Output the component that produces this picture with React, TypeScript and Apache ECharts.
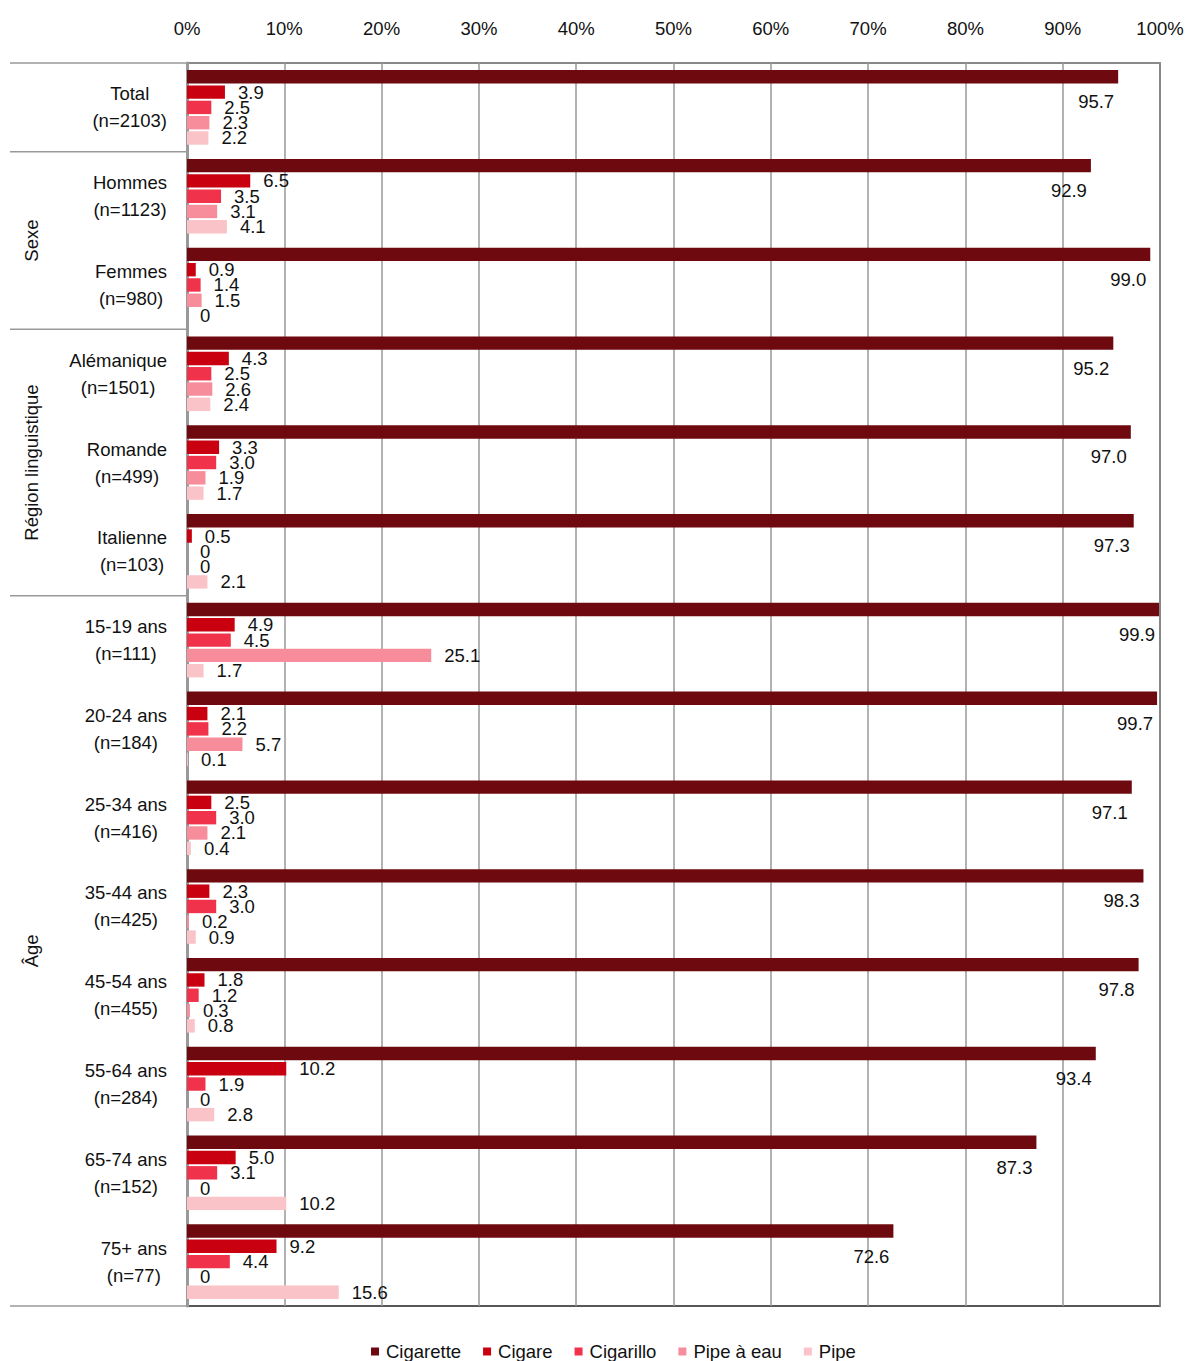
import React, { useEffect, useRef } from "react";
import * as echarts from "echarts";

const categories = [
  "Total|(n=2103)",
  "Hommes|(n=1123)",
  "Femmes|(n=980)",
  "Alémanique|(n=1501)",
  "Romande|(n=499)",
  "Italienne|(n=103)",
  "15-19 ans|(n=111)",
  "20-24 ans|(n=184)",
  "25-34 ans|(n=416)",
  "35-44 ans|(n=425)",
  "45-54 ans|(n=455)",
  "55-64 ans|(n=284)",
  "65-74 ans|(n=152)",
  "75+ ans|(n=77)",
];

const seriesNames = ["Cigarette", "Cigare", "Cigarillo", "Pipe à eau", "Pipe"];
const seriesColors = ["#6E0A0F", "#C8000F", "#F0324B", "#F78C9B", "#FAC3C8"];

const cigarette = [95.7, 92.9, 99.0, 95.2, 97.0, 97.3, 99.9, 99.7, 97.1, 98.3, 97.8, 93.4, 87.3, 72.6];
const cigare = [3.9, 6.5, 0.9, 4.3, 3.3, 0.5, 4.9, 2.1, 2.5, 2.3, 1.8, 10.2, 5.0, 9.2];
const cigarillo = [2.5, 3.5, 1.4, 2.5, 3.0, 0, 4.5, 2.2, 3.0, 3.0, 1.2, 1.9, 3.1, 4.4];
const pipeEau = [2.3, 3.1, 1.5, 2.6, 1.9, 0, 25.1, 5.7, 2.1, 0.2, 0.3, 0, 0, 0];
const pipe = [2.2, 4.1, 0, 2.4, 1.7, 2.1, 1.7, 0.1, 0.4, 0.9, 0.8, 2.8, 10.2, 15.6];

const xTicks = [0, 10, 20, 30, 40, 50, 60, 70, 80, 90, 100];

const groups = [
  { name: "Sexe", start: 1, end: 2 },
  { name: "Région linguistique", start: 3, end: 5 },
  { name: "Âge", start: 6, end: 13 },
];
const separatorIdx = [0, 1, 3, 6];

const FONT = "'Liberation Sans', Arial, sans-serif";
const FS = 18.5;
const TEXT = "#111";

export default function App() {
  const ref = useRef<HTMLDivElement>(null);
  useEffect(() => {
    if (!ref.current) return;
    const chart = echarts.init(ref.current, null, { renderer: "svg" });
    const data = [cigarette, cigare, cigarillo, pipeEau, pipe];
    const fmt = (p: any) => (p.value === 0 ? "0" : Number(p.value).toFixed(1));
    const option: any = {
      animation: false,
      textStyle: { fontFamily: FONT },
      grid: {
        left: 187,
        right: 26,
        top: 63,
        bottom: 55,
        show: true,
        borderColor: "#222",
        borderWidth: 1.5,
        containLabel: false,
        outerBoundsMode: "none",
      },
      legend: {
        data: seriesNames,
        top: 1337,
        left: 366,
        icon: "rect",
        itemWidth: 8,
        itemHeight: 8,
        itemGap: 22,
        textStyle: { fontFamily: FONT, fontSize: FS, color: TEXT, padding: [0, 0, 0, 2] },
      },
      xAxis: {
        type: "value",
        position: "top",
        min: 0,
        max: 100,
        interval: 10,
        axisLine: { show: true, lineStyle: { color: "#999", width: 1.5 } },
        axisTick: { show: false },
        axisLabel: {
          formatter: (v: number) => (xTicks.includes(v) ? v + "%" : ""),
          fontFamily: FONT,
          fontSize: FS,
          color: TEXT,
          margin: 25,
        },
        splitLine: { show: true, lineStyle: { color: "#999", width: 1.5 } },
      },
      yAxis: {
        type: "category",
        inverse: true,
        data: categories,
        axisLine: { show: true, lineStyle: { color: "#999", width: 3 } },
        axisTick: { show: false },
        axisLabel: {
          margin: 20,
          align: "right",
          formatter: (v: string) => {
            const [a, b] = v.split("|");
            return "{c|" + a + "}\n{c|" + b + "}";
          },
          rich: {
            c: {
              align: "center",
              fontFamily: FONT,
              fontSize: FS,
              color: TEXT,
              lineHeight: 27,
            },
          },
        },
        splitLine: { show: false },
      },
      series: seriesNames.map((name, i) => ({
        name,
        type: "bar",
        data: data[i],
        barCategoryGap: "16%",
        barGap: "14%",
        itemStyle: { color: seriesColors[i] },
        label: {
          show: true,
          formatter: fmt,
          position: i === 0 ? "insideRight" : "right",
          distance: i === 0 ? 4 : 13,
          offset: i === 0 ? [0, 25] : [0, 0],
          fontFamily: FONT,
          fontSize: FS,
          color: TEXT,
        },
      })),
    };
    chart.setOption(option);

    const center = (i: number) => chart.convertToPixel({ yAxisIndex: 0 }, categories[i]) as number;
    const band = center(1) - center(0);
    const topOf = (i: number) => center(i) - band / 2;
    const bottomOf = (i: number) => center(i) + band / 2;
    const xLeft = 10;
    const xAxisPx = chart.convertToPixel({ xAxisIndex: 0 }, 0) as number;
    const graphic: any[] = [];
    separatorIdx.forEach((i) => {
      graphic.push({
        type: "line",
        shape: { x1: xLeft, y1: topOf(i), x2: xAxisPx, y2: topOf(i) },
        style: { stroke: "#999", lineWidth: 1.5 },
        silent: true,
      });
    });
    const last = categories.length - 1;
    graphic.push({
      type: "line",
      shape: { x1: xLeft, y1: bottomOf(last), x2: xAxisPx, y2: bottomOf(last) },
      style: { stroke: "#999", lineWidth: 1.5 },
      silent: true,
    });
    groups.forEach((g) => {
      const cy = (topOf(g.start) + bottomOf(g.end)) / 2;
      graphic.push({
        type: "text",
        x: 31,
        y: cy,
        rotation: Math.PI / 2,
        style: {
          text: g.name,
          fontFamily: FONT,
          fontSize: FS,
          fill: TEXT,
          align: "center",
          verticalAlign: "middle",
        },
        silent: true,
      });
    });
    chart.setOption({ graphic });

    return () => chart.dispose();
  }, []);
  return (
    <>
      <style>{"body{margin:0;overflow:hidden}"}</style>
      <div ref={ref} style={{ width: 1186, height: 1361 }} />
    </>
  );
}
